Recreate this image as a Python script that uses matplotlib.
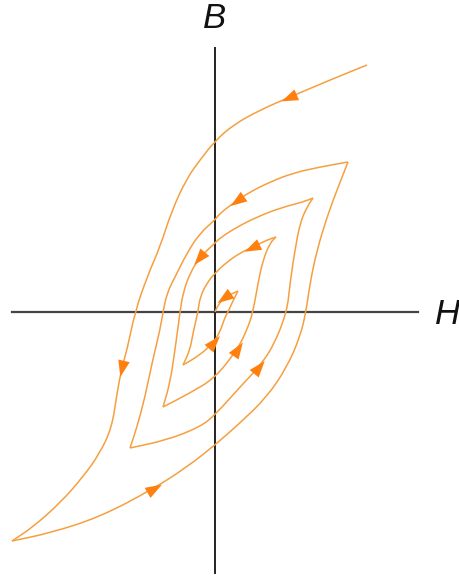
import numpy as np
import matplotlib
matplotlib.use('Agg')
from matplotlib import pyplot as plt
from matplotlib.markers import MarkerStyle
from matplotlib.transforms import Affine2D
from matplotlib.path import Path
from matplotlib.patches import PathPatch

# Spiral branches of the demagnetising hysteresis curve, (H, B) in drawing units
branch1 = [(152, 247), (115, 232), (75, 215), (45, 202), (18, 187), (0, 171), (-15, 152),
           (-28, 134), (-43, 102), (-55, 65), (-68, 35), (-80, 0), (-88, -38), (-93, -55),
           (-98, -81), (-103, -115), (-115, -141), (-132, -165), (-155, -191), (-182, -215),
           (-203, -229)]
branch2 = [(-203, -229), (-165, -221), (-115, -205), (-62, -177), (-28, -155), (0, -133),
           (25, -111), (52, -85), (72, -55), (85, -25), (91, 0), (95, 29), (102, 62),
           (112, 95), (122, 122), (133, 150)]
branch3 = [(133, 150), (105, 145), (78, 139), (55, 130), (35, 120), (23, 112), (5, 99),
           (0, 92), (-15, 79), (-28, 59), (-40, 35), (-48, 19), (-52, 0), (-55, -18),
           (-63, -51), (-70, -85), (-78, -115), (-85, -136)]
branch4 = [(-85, -136), (-48, -128), (-15, -115), (0, -103), (25, -75), (43, -56),
           (58, -35), (72, 0), (75, 29), (80, 62), (85, 89), (92, 105), (98, 114)]
branch5 = [(98, 114), (88, 110), (65, 104), (42, 95), (22, 85), (5, 74), (0, 69),
           (-15, 55), (-25, 39), (-32, 19), (-35, 0), (-40, -38), (-45, -71), (-52, -95)]
branch6 = [(-52, -95), (-25, -81), (0, -66), (22, -38), (32, -18), (38, 0), (43, 29),
           (48, 52), (55, 69), (61, 75)]
branch7 = [(61, 75), (52, 72), (38, 65), (25, 59), (12, 50), (0, 39), (-8, 29), (-15, 15),
           (-17, 0), (-22, -21), (-25, -38), (-32, -53)]
branch8 = [(-32, -53), (-15, -43), (-2, -31), (5, -20), (10, -5), (13, 0), (17, 9),
           (20, 15), (23, 21)]
branch9 = [(23, 21), (10, 15), (3, 7), (0, 0)]

branches = [branch1, branch2, branch3, branch4, branch5, branch6, branch7, branch8, branch9]
# index of the point on each branch (branch, point) where a direction arrow sits
arrows = [(0, 2), (0, 13), (1, 3), (2, 5), (3, 5), (4, 7), (5, 3), (6, 2), (7, 2), (8, 1)]

line_col = '#F5A040'
arrow_col = '#FF7F0F'

fig = plt.figure(figsize=(4.6, 5.83), dpi=100)
ax = fig.add_axes([0, 0, 1, 1])
ax.set_xlim(-215, 245)
ax.set_ylim(-271, 312)
ax.axis('off')

# axes of the diagram
ax.plot([-203, 203], [0, 0], color='#444444', lw=1.6, zorder=1)
ax.plot([0, 0], [-261, 264], color='#222222', lw=1.4, zorder=1)
ax.text(0, 294, 'B', fontsize=25, style='italic', family='Liberation Sans',
        ha='center', va='center', color='#111111')
ax.text(233, -3, 'H', fontsize=25, style='italic', family='Liberation Sans',
        ha='center', va='center', color='#111111')


def smooth_path(pts):
    # quadratic bezier through midpoints, read points act as control points
    verts = [pts[0], (pts[0] + pts[1]) / 2]
    codes = [Path.MOVETO, Path.LINETO]
    for i in range(1, len(pts) - 1):
        verts += [pts[i], (pts[i] + pts[i + 1]) / 2]
        codes += [Path.CURVE3, Path.CURVE3]
    verts.append(pts[-1])
    codes.append(Path.LINETO)
    return Path(verts, codes)


for br in branches:
    pts = np.array(br, dtype=float)
    ax.add_patch(PathPatch(smooth_path(pts), facecolor='none', edgecolor=line_col,
                           lw=1.1, zorder=2, joinstyle='round'))

# triangle pointing along +x
tri = np.array([[1.0, 0.0], [-0.7, 0.6], [-0.7, -0.6], [1.0, 0.0]])
for bi, pi in arrows:
    pts = np.array(branches[bi], dtype=float)
    a = pts[max(pi - 1, 0)]
    b = pts[min(pi + 1, len(pts) - 1)]
    ang = np.degrees(np.arctan2(b[1] - a[1], b[0] - a[0]))
    m = MarkerStyle(tri, transform=Affine2D().rotate_deg(ang))
    ax.plot(pts[pi, 0], pts[pi, 1], marker=m, markersize=14, color=arrow_col,
            markeredgewidth=0, zorder=3)

plt.savefig('out.png', dpi=100)
